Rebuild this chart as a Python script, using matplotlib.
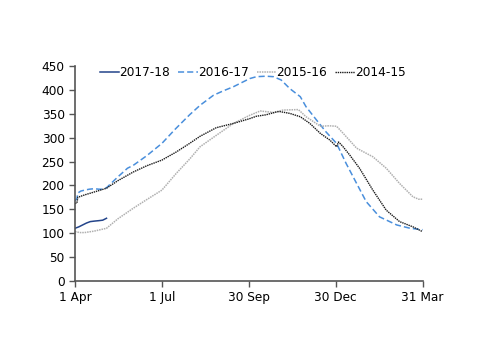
import matplotlib
matplotlib.use("Agg")
import matplotlib.pyplot as plt

# ---------------------------
# Data (days since 1 Apr, value)
# ---------------------------
days_1718 = [0, 4, 8, 12, 16, 20, 25, 29, 33]
vals_1718 = [110, 113, 117, 121, 124, 125, 126, 127, 131]

days_1617 = [0, 2, 3, 6, 10, 15, 20, 25, 28, 33, 45, 55, 61, 75, 91, 105, 120, 131, 145, 155, 166, 175,
             183, 190, 200, 208, 216, 225, 236, 242, 253, 263, 274, 284, 295, 305, 319, 337, 351, 364]
vals_1617 = [168, 172, 184, 188, 190, 192, 193, 192, 192, 195, 218, 236, 242, 262, 288, 318, 348, 368, 389,
             398, 407, 416, 424, 428, 429, 428, 421, 403, 386, 365, 337, 312, 288, 246, 204, 166, 134, 117, 110, 107]

days_1516 = [0, 5, 10, 20, 33, 45, 61, 75, 91, 106, 120, 131, 148, 166, 183, 194, 208, 218, 234, 242,
             257, 266, 274, 281, 295, 312, 326, 340, 354, 360, 364]
vals_1516 = [103, 101, 101, 104, 110, 130, 152, 170, 190, 225, 255, 281, 305, 330, 347, 356, 353, 358, 359, 344,
             324, 325, 324, 309, 278, 260, 236, 204, 176, 171, 171]

days_1415 = [0, 2, 3, 10, 20, 33, 45, 61, 75, 91, 106, 120, 131, 148, 166, 183, 190, 200, 211, 214, 225,
             236, 246, 257, 267, 274, 276, 280, 288, 298, 312, 326, 340, 354, 364]
vals_1415 = [162, 163, 175, 180, 186, 194, 210, 228, 241, 253, 270, 288, 303, 321, 330, 340, 345, 348, 354, 355, 351,
             344, 330, 309, 295, 281, 291, 283, 263, 236, 190, 148, 124, 113, 103]

tick_days = [0, 91, 182, 273, 364]
tick_labels = ["1 Apr", "1 Jul", "30 Sep", "30 Dec", "31 Mar"]

# ---------------------------
# Plot
# ---------------------------
plt.rcParams["font.family"] = ["DejaVu Sans"]
plt.rcParams["font.size"] = 8.7

fig = plt.figure(figsize=(5, 3.54), dpi=100)
ax = fig.add_axes([0.15, 0.207, 0.695, 0.606])

ax.plot(days_1718, vals_1718, color="#23448a", linewidth=1.1, label="2017-18")
ax.plot(days_1617, vals_1617, color="#4a8fdc", linewidth=1.1, linestyle=(0, (4, 2)), label="2016-17")
ax.plot(days_1516, vals_1516, color="#b0b0b0", linewidth=1.1, linestyle=(0, (1, 0.6)), label="2015-16")
ax.plot(days_1415, vals_1415, color="#1a1a1a", linewidth=1.0, linestyle=(0, (1, 0.6)), label="2014-15")

ax.set_xlim(0, 364)
ax.set_ylim(0, 450)
ax.set_xticks(tick_days)
ax.set_xticklabels(tick_labels)
ax.set_yticks(range(0, 451, 50))

for side in ["top", "right"]:
    ax.spines[side].set_visible(False)
for side in ["left", "bottom"]:
    ax.spines[side].set_color("#555555")
    ax.spines[side].set_linewidth(1.2)
ax.tick_params(direction="out", length=4, width=1.0, color="#555555", labelcolor="black")

ax.legend(loc="upper left", bbox_to_anchor=(0.04, 1.05), ncol=4, frameon=False,
          handlelength=1.6, handletextpad=0.0, columnspacing=0.7, fontsize=8.7)

fig.savefig("out.png", dpi=100)
